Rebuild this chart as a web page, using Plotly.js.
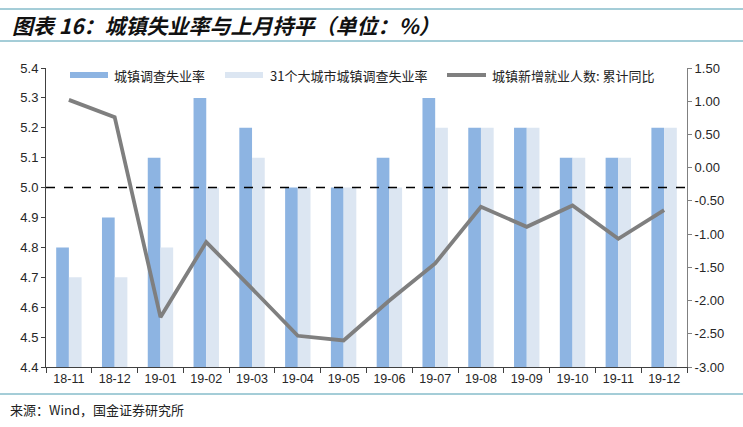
<!DOCTYPE html>
<html>
<head>
<meta charset="utf-8">
<script src="https://cdn.plot.ly/plotly-3.0.1.min.js"></script>
<style>html,body{margin:0;padding:0;background:#fff;}#chart{width:743px;height:427px;}</style>
</head>
<body>
<div id="chart"></div>
<script>
const categories = ["18-11","18-12","19-01","19-02","19-03","19-04","19-05","19-06","19-07","19-08","19-09","19-10","19-11","19-12"];
const urbanRate = [4.8, 4.9, 5.1, 5.3, 5.2, 5.0, 5.0, 5.1, 5.3, 5.2, 5.2, 5.1, 5.1, 5.2];
const bigCityRate = [4.7, 4.7, 4.8, 5.0, 5.1, 5.0, 5.0, 5.0, 5.2, 5.2, 5.2, 5.1, 5.1, 5.2];
const newJobsYoY = [1.02, 0.76, -2.25, -1.12, -1.82, -2.53, -2.60, -2.00, -1.44, -0.59, -0.89, -0.57, -1.07, -0.64];
const rightTickVals = [1.5, 1.0, 0.5, 0.0, -0.5, -1.0, -1.5, -2.0, -2.5, -3.0];
const rightTickText = ["1.50","1.00","0.50","0.00","-0.50","-1.00","-1.50","-2.00","-2.50","-3.00"];
const seriesNames = ["城镇调查失业率", "31个大城市城镇调查失业率", "城镇新增就业人数: 累计同比"];
const titleText = "图表 16：城镇失业率与上月持平（单位：%）";
const sourceText = "来源：Wind，国金证券研究所";

const blue = "#8DB4E2", light = "#DCE6F2", gray = "#7F7F7F", rule = "#4A9BB0";
const cjk = "'Noto Sans CJK SC', 'Liberation Sans', sans-serif";
const num = "'Liberation Sans', Arial, sans-serif";

// plot area: x 46..687, y 68..367
const L = 46, R = 687, T = 68, B = 367;
const px = X => (X - L) / (R - L);
const py = Y => (B - Y) / (B - T);

const traces = [
  {type: "bar", x: categories, y: urbanRate, name: seriesNames[0], marker: {color: blue}, showlegend: false, yaxis: "y"},
  {type: "bar", x: categories, y: bigCityRate, name: seriesNames[1], marker: {color: light}, showlegend: false, yaxis: "y"},
  {type: "scatter", mode: "lines", x: categories, y: newJobsYoY, name: seriesNames[2], line: {color: gray, width: 3.8}, showlegend: false, yaxis: "y2"}
];

const legendY = 75;
const shapes = [
  {type: "line", xref: "paper", yref: "paper", x0: px(0), x1: px(743), y0: py(9), y1: py(9), line: {color: rule, width: 1}},
  {type: "line", xref: "paper", yref: "paper", x0: px(0), x1: px(743), y0: py(41), y1: py(41), line: {color: rule, width: 1}},
  {type: "line", xref: "paper", yref: "paper", x0: px(0), x1: px(743), y0: py(394), y1: py(394), line: {color: rule, width: 1}},
  {type: "line", xref: "paper", yref: "y", x0: 0, x1: 1, y0: 5.0, y1: 5.0, line: {color: "#000", width: 1.5, dash: "dash"}},
  {type: "rect", xref: "paper", yref: "paper", x0: px(70), x1: px(108), y0: py(legendY - 3), y1: py(legendY + 3), fillcolor: blue, line: {width: 0}},
  {type: "rect", xref: "paper", yref: "paper", x0: px(225), x1: px(263), y0: py(legendY - 3), y1: py(legendY + 3), fillcolor: light, line: {width: 0}},
  {type: "line", xref: "paper", yref: "paper", x0: px(447), x1: px(486), y0: py(legendY), y1: py(legendY), line: {color: gray, width: 4}}
];

const annotations = [
  {xref: "paper", yref: "paper", x: px(10), y: py(25), xanchor: "left", yanchor: "middle", text: "<b><i>" + titleText + "</i></b>", showarrow: false, font: {family: cjk, size: 21, color: "#111"}},
  {xref: "paper", yref: "paper", x: px(8), y: py(409), xanchor: "left", yanchor: "middle", text: sourceText, showarrow: false, font: {family: cjk, size: 13, color: "#222"}},
  {xref: "paper", yref: "paper", x: px(112), y: py(legendY), xanchor: "left", yanchor: "middle", text: seriesNames[0], showarrow: false, font: {family: cjk, size: 13, color: "#222"}},
  {xref: "paper", yref: "paper", x: px(268), y: py(legendY), xanchor: "left", yanchor: "middle", text: seriesNames[1], showarrow: false, font: {family: cjk, size: 13, color: "#222"}},
  {xref: "paper", yref: "paper", x: px(490), y: py(legendY), xanchor: "left", yanchor: "middle", text: seriesNames[2], showarrow: false, font: {family: cjk, size: 13, color: "#222"}}
];

const layout = {
  width: 743, height: 427,
  margin: {l: L, r: 743 - R, t: T, b: 427 - B, pad: 0},
  paper_bgcolor: "#fff", plot_bgcolor: "#fff",
  barmode: "group", bargap: 0.445, bargroupgap: 0,
  showlegend: false,
  font: {family: num, size: 12, color: "#262626"},
  xaxis: {type: "category", tickson: "boundaries", ticks: "outside", ticklen: 5, tickcolor: "#404040",
          showline: true, linecolor: "#404040", linewidth: 1, showgrid: false, zeroline: false,
          tickfont: {family: num, size: 12.5, color: "#262626"}, fixedrange: true},
  yaxis: {range: [4.4, 5.4], dtick: 0.1, tick0: 4.4, tickformat: ".1f", ticks: "outside", ticklen: 4,
          tickcolor: "#404040", showline: true, linecolor: "#404040", linewidth: 1, showgrid: false, zeroline: false,
          tickfont: {family: num, size: 13, color: "#262626"}},
  yaxis2: {overlaying: "y", side: "right", range: [-3.0, 1.5], tickvals: rightTickVals, ticktext: rightTickText,
           ticks: "outside", ticklen: 4, tickcolor: "#808080", showline: true, linecolor: "#808080", linewidth: 1,
           showgrid: false, zeroline: false, tickfont: {family: num, size: 13, color: "#262626"}},
  shapes: shapes,
  annotations: annotations
};

Plotly.newPlot("chart", traces, layout, {staticPlot: true, displayModeBar: false});
</script>
</body>
</html>
